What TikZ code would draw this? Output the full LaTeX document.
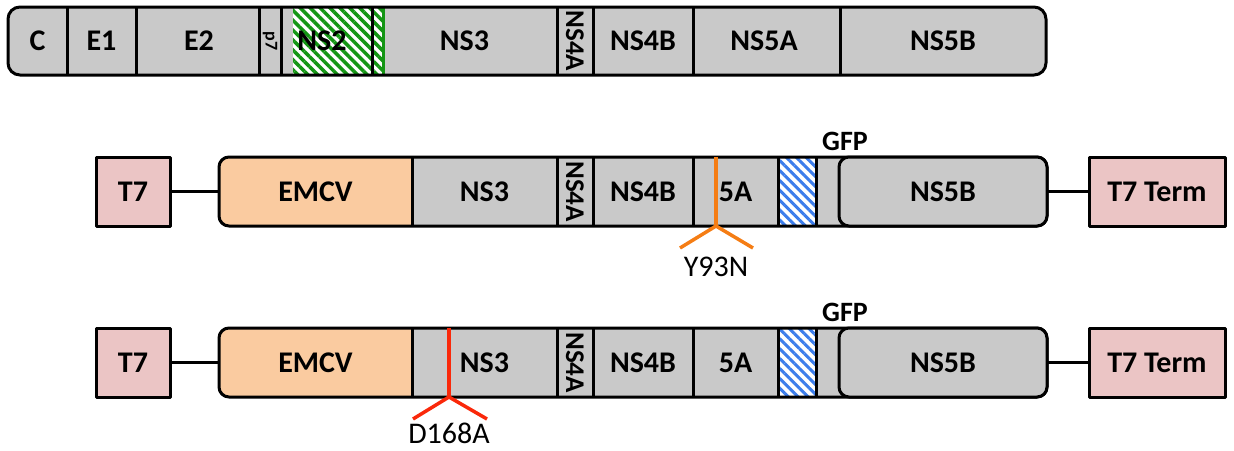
\documentclass[tikz,border=0pt]{standalone}
\usepackage{fontspec}
\setmainfont{Carlito}
\usetikzlibrary{patterns.meta}
\definecolor{segGray}{RGB}{201,201,201}
\definecolor{peach}{RGB}{250,203,160}
\definecolor{pinkT}{RGB}{235,197,197}
\definecolor{hatchGreen}{RGB}{20,150,20}
\definecolor{hatchBlue}{RGB}{60,125,235}
\definecolor{mutOrange}{RGB}{245,125,20}
\definecolor{mutRed}{RGB}{250,40,10}
\tikzset{
  frame/.style={line width=3pt},
  divline/.style={line width=3pt},
  lab/.style={inner sep=0pt, outer sep=0pt, font=\bfseries\fontsize{30}{30}\selectfont},
  rlab/.style={inner sep=0pt, outer sep=0pt, rotate=-90, font=\bfseries\fontsize{27}{27}\selectfont},
  tbox/.style={draw, fill=pinkT, line width=3pt, inner sep=0pt, outer sep=0pt, minimum height=69pt, font=\bfseries\fontsize{30}{30}\selectfont},
  conn/.style={line width=3pt},
  mutlab/.style={inner sep=0pt, font=\fontsize{30}{30}\selectfont},
  gfplab/.style={inner sep=0pt, font=\bfseries\fontsize{28}{28}\selectfont},
  greenhatch/.style={pattern={Lines[angle=-45,distance=7pt,line width=3.5pt]}, pattern color=hatchGreen},
  bluehatch/.style={pattern={Lines[angle=-45,distance=7pt,line width=3pt]}, pattern color=hatchBlue},
}
\newcommand\repRow[2]{%
  \fill[segGray, rounded corners=10pt] (219,#1) rectangle (1047,#1+69);
  \begin{scope}
    \clip[rounded corners=10pt] (219,#1) rectangle (1047,#1+69);
    \fill[peach] (219,#1) rectangle (412,#1+69);
  \end{scope}
  \fill[white] (778,#1) rectangle (816,#1+69);
  \fill[bluehatch] (778,#1) rectangle (816,#1+69);
  \foreach \xx in {412,557,593,693,778,816}{\draw[divline] (\xx,#1) -- (\xx,#1+69);}
  \draw[frame, rounded corners=10pt] (219,#1) rectangle (1047,#1+69);
  \draw[frame, fill=segGray, rounded corners=10pt] (839,#1) rectangle (1047,#1+69);
  \node[lab, minimum width=193pt, minimum height=69pt] (#2emcv) at (315.5,#1+34.5) {EMCV};
  \node[lab, minimum width=145pt, minimum height=69pt] (#2ns3) at (484.5,#1+34.5) {NS3};
  \node[rlab] (#2ns4a) at (575,#1+34.5) {NS4A};
  \node[lab, minimum width=100pt, minimum height=69pt] (#2ns4b) at (643,#1+34.5) {NS4B};
  \node[lab, minimum width=85pt, minimum height=69pt] (#2fivea) at (735.5,#1+34.5) {5A};
  \node[lab, minimum width=208pt, minimum height=69pt] (#2ns5b) at (943,#1+34.5) {NS5B};
  \node[gfplab] (#2gfp) at (845,#1-16) {GFP};
  \node[tbox, minimum width=74pt] (#2t7) at (133,#1+34.5) {T7};
  \node[tbox, minimum width=136pt] (#2term) at (1157,#1+34.5) {T7 Term};
  \draw[conn] (#2t7.east) -- (#2emcv.west);
  \draw[conn] (#2ns5b.east) -- (#2term.west);
}
\begin{document}
\begin{tikzpicture}[x=1pt,y=-1pt,line join=round]
\useasboundingbox (0,0) rectangle (1234,450);
% genome row
\fill[segGray, rounded corners=12pt] (8,7) rectangle (1046,75);
\fill[white] (293,7) rectangle (384,75);
\fill[greenhatch] (293,7) rectangle (384,75);
\draw[hatchGreen, line width=3pt] (383.5,7) -- (383.5,75);
\foreach \xx in {67,136,259,281,372,557,593,693,840}{\draw[divline] (\xx,7) -- (\xx,75);}
\draw[frame, rounded corners=12pt] (8,7) rectangle (1046,75);
\node[lab, minimum width=59pt, minimum height=68pt] (c) at (37.5,41) {C};
\node[lab, minimum width=69pt, minimum height=68pt] (e1) at (101.5,41) {E1};
\node[lab, minimum width=123pt, minimum height=68pt] (e2) at (199,41) {E2};
\node[inner sep=0pt, rotate=-90, font=\bfseries\fontsize{18}{18}\selectfont] (p7) at (270,41) {p7};
\node[lab] (ns2) at (322,41) {NS2};
\node[lab, minimum width=185pt, minimum height=68pt] (ns3) at (464.5,41) {NS3};
\node[rlab] (ns4a) at (575,41) {NS4A};
\node[lab, minimum width=100pt, minimum height=68pt] (ns4b) at (643,41) {NS4B};
\node[lab, minimum width=147pt, minimum height=68pt] (ns5a) at (764,41) {NS5A};
\node[lab, minimum width=206pt, minimum height=68pt] (ns5b) at (943,41) {NS5B};
% replicon rows
\repRow{157}{a}
\repRow{328}{b}
% mutations
\coordinate (ytop) at (716,157);
\coordinate (yapex) at (716,226);
\coordinate (yl) at (680,248);
\coordinate (yr) at (753,248);
\draw[mutOrange, line width=3.5pt] (ytop) -- (yapex);
\draw[mutOrange, line width=3.5pt] (yl) -- (yapex) -- (yr);
\node[mutlab] (y93n) at (716,267) {Y93N};
\coordinate (dtop) at (449,328);
\coordinate (dapex) at (449,397);
\coordinate (dl) at (413,419);
\coordinate (dr) at (487,419);
\draw[mutRed, line width=3.5pt] (dtop) -- (dapex);
\draw[mutRed, line width=3.5pt] (dl) -- (dapex) -- (dr);
\node[mutlab] (d168a) at (449,433) {D168A};
\end{tikzpicture}
\end{document}
